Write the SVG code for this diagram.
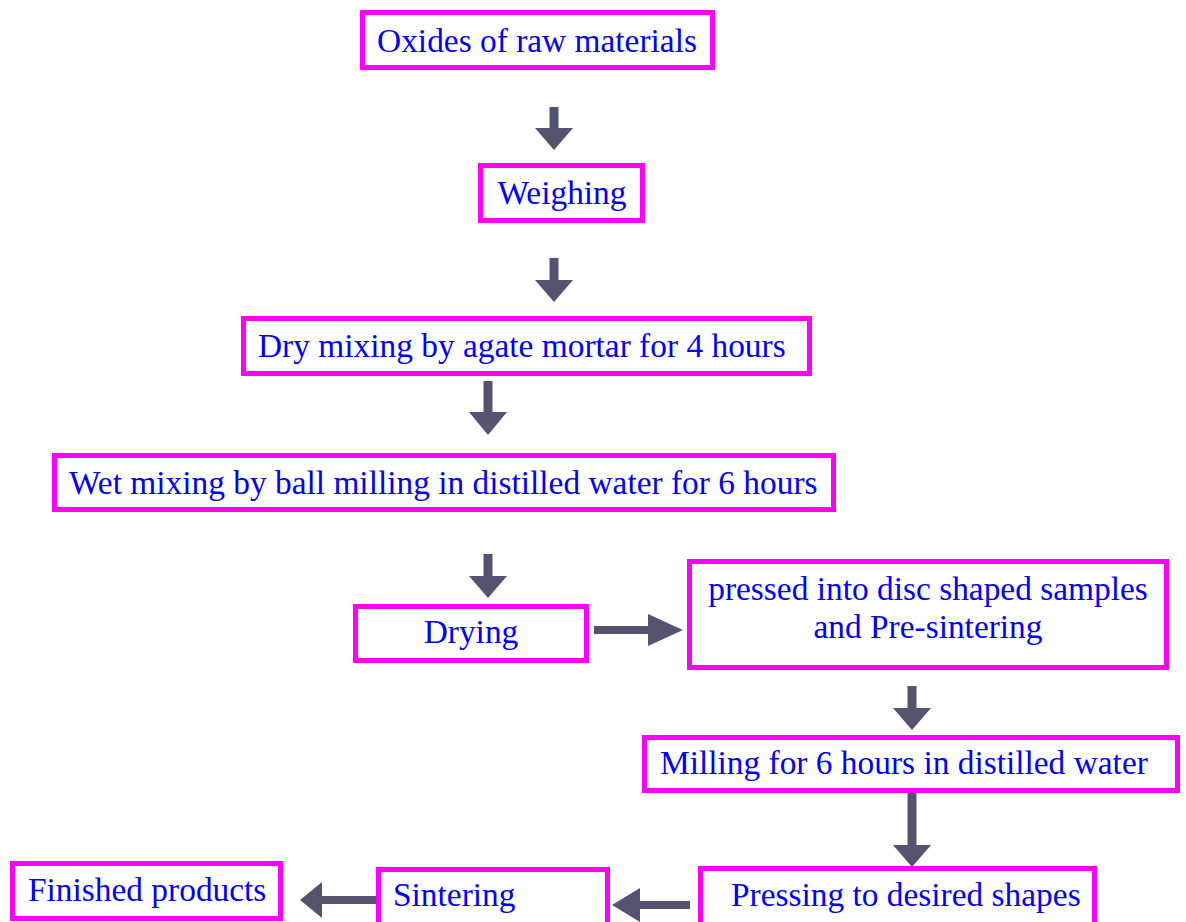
<svg xmlns="http://www.w3.org/2000/svg" width="1186" height="922" viewBox="0 0 1186 922">
<style>
.box{fill:#fff;stroke:#ff00ff;stroke-width:5}
.t{font-family:"Liberation Serif","Times New Roman",serif;font-size:33.4px;fill:#0000ff}
.ar{fill:#545470}
</style>
<rect width="1186" height="922" fill="#fff"/>
<g id="connectors">
<polygon class="ar" points="549.5,107 558.5,107 558.5,128 573,128 554,150 535,128 549.5,128"/>
<polygon class="ar" points="549.5,258 558.5,258 558.5,280 573,280 554,302 535,280 549.5,280"/>
<polygon class="ar" points="483.5,381 492.5,381 492.5,412 507,412 488,435 469,412 483.5,412"/>
<polygon class="ar" points="483.5,554 492.5,554 492.5,576 507,576 488,598 469,576 483.5,576"/>
<polygon class="ar" points="594,626 648,626 648,614 683,630 648,646 648,634 594,634"/>
<polygon class="ar" points="907.5,686 916.5,686 916.5,708 931,708 912,730 893,708 907.5,708"/>
<polygon class="ar" points="907.5,792 916.5,792 916.5,845 931,845 912,867 893,845 907.5,845"/>
<polygon class="ar" points="690,901 640,901 640,888 612,905 640,922 640,909 690,909"/>
<polygon class="ar" points="376,896 322,896 322,882 300,900 322,918 322,904 376,904"/>
</g>
<g id="n1"><rect class="box" x="362.5" y="12.5" width="350" height="55"/><text class="t" x="537" y="52" text-anchor="middle">Oxides of raw materials</text></g>
<g id="n2"><rect class="box" x="480.5" y="165.5" width="162" height="55"/><text class="t" x="562" y="204" text-anchor="middle">Weighing</text></g>
<g id="n3"><rect class="box" x="243.5" y="318.5" width="566" height="55"/><text class="t" x="258" y="357">Dry mixing by agate mortar for 4 hours</text></g>
<g id="n4"><rect class="box" x="54.5" y="455.5" width="779" height="54"/><text class="t" x="69" y="494">Wet mixing by ball milling in distilled water for 6 hours</text></g>
<g id="n5"><rect class="box" x="355.5" y="606.5" width="231" height="54"/><text class="t" x="471" y="643" text-anchor="middle">Drying</text></g>
<g id="n6"><rect class="box" x="689.5" y="561.5" width="477" height="106"/><text class="t" x="928" y="600" text-anchor="middle">pressed into disc shaped samples</text><text class="t" x="928" y="638" text-anchor="middle">and Pre-sintering</text></g>
<g id="n7"><rect class="box" x="644.5" y="737.5" width="533" height="53"/><text class="t" x="660" y="774">Milling for 6 hours in distilled water</text></g>
<g id="n8"><rect class="box" x="700.5" y="868.5" width="394" height="60"/><text class="t" x="731" y="906">Pressing to desired shapes</text></g>
<g id="n9"><rect class="box" x="378.5" y="869.5" width="229" height="60"/><text class="t" x="393" y="906">Sintering</text></g>
<g id="n10"><rect class="box" x="12.5" y="863.5" width="268" height="55"/><text class="t" x="28" y="901">Finished products</text></g>
</svg>
